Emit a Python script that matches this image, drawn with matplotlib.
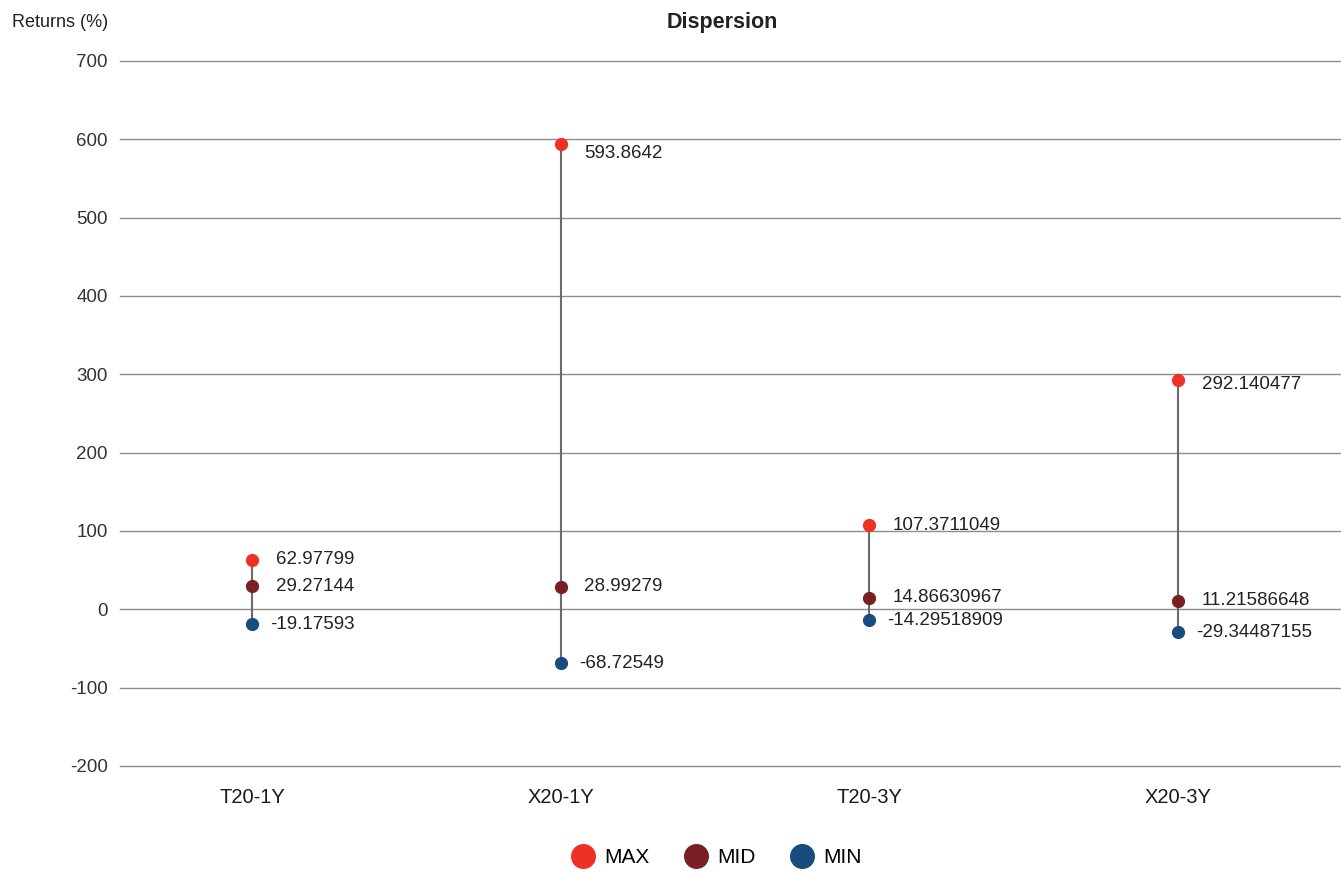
import matplotlib.pyplot as plt
from matplotlib.transforms import ScaledTranslation

plt.rcParams['font.family'] = ['Liberation Sans', 'DejaVu Sans']

categories = ['T20-1Y', 'X20-1Y', 'T20-3Y', 'X20-3Y']
max_vals = [62.97799, 593.8642, 107.3711049, 292.140477]
mid_vals = [29.27144, 28.99279, 14.86630967, 11.21586648]
min_vals = [-19.17593, -68.72549, -14.29518909, -29.34487155]
max_labels = ['62.97799', '593.8642', '107.3711049', '292.140477']
mid_labels = ['29.27144', '28.99279', '14.86630967', '11.21586648']
min_labels = ['-19.17593', '-68.72549', '-14.29518909', '-29.34487155']
y_ticks = [-200, -100, 0, 100, 200, 300, 400, 500, 600, 700]

c_max = '#ee3124'
c_mid = '#7a1f23'
c_min = '#1a4b7e'

fig = plt.figure(figsize=(13.41, 8.71), dpi=100)
ax = fig.add_axes([0.0895, 0.1206, 0.9105, 0.8094])

x = list(range(len(categories)))

# vertical range lines
ax.vlines(x, min_vals, max_vals, color='#6b6b6b', lw=1.5, zorder=2)

series = [
    ('MAX', max_vals, max_labels, c_max, 17),
    ('MID', mid_vals, mid_labels, c_mid, 17),
    ('MIN', min_vals, min_labels, c_min, 13),
]
for name, vals, labels, col, dx in series:
    ax.plot(x, vals, 'o', color=col, ms=8.5, ls='none', label=name, zorder=3)
    for xi, v, lab in zip(x, vals, labels):
        dy = 0
        if name == 'MAX' and v > 500:
            dy = -7
        elif name == 'MAX' and v > 250:
            dy = -3
        ax.annotate(lab, (xi, v), xytext=(dx, dy), textcoords='offset points',
                    ha='left', va='center', fontsize=13.5, color='#222222')

ax.set_ylim(-200, 700)
ax.set_xlim(-0.428, 3.528)
ax.set_yticks(y_ticks)
ax.set_yticklabels([str(t) for t in y_ticks], fontsize=13.5, color='#333333')
ax.set_xticks(x)
ax.set_xticklabels(categories, fontsize=14.5, color='#1a1a1a')
shift = ScaledTranslation(-6 / 100, 0, fig.dpi_scale_trans)
for lbl in ax.get_xticklabels():
    lbl.set_transform(lbl.get_transform() + shift)
ax.tick_params(axis='y', length=0, pad=9)
ax.tick_params(axis='x', length=0, pad=16)
ax.grid(axis='y', color='#8c8c8c', lw=1)
for gl in ax.get_ygridlines():
    gl.set_clip_on(False)
ax.set_axisbelow(True)
for s in ax.spines.values():
    s.set_visible(False)

fig.text(0.5389, 0.9745, 'Dispersion', ha='center', va='center',
         fontsize=15.5, fontweight='bold', color='#222222')
fig.text(0.009, 0.9745, 'Returns (%)', ha='left', va='center',
         fontsize=13, color='#222222')

leg = fig.legend(loc='center', bbox_to_anchor=(0.531, 0.0155), ncol=3,
                 frameon=False, fontsize=15, markerscale=2.0,
                 handletextpad=0.05, columnspacing=1.2)

fig.savefig('out.png', dpi=100)
